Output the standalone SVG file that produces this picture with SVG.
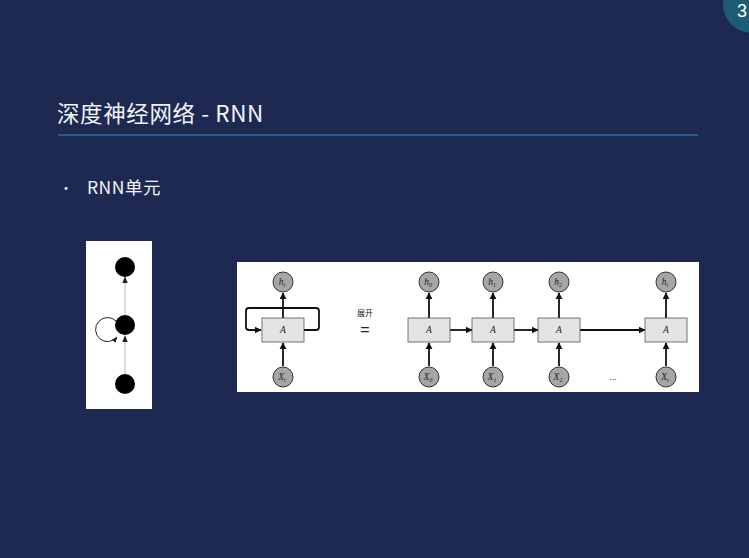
<svg xmlns="http://www.w3.org/2000/svg" width="749" height="558" viewBox="0 0 749 558">
<style>
.ttl{font-family:"Noto Sans CJK SC","Noto Sans",sans-serif;fill:#f2f4f8}
.nd{fill:#a6a6a6;stroke:#333;stroke-width:1}
.bx{fill:#e4e4e4;stroke:#555;stroke-width:0.8}
.lb{font-family:"Liberation Serif",serif;font-style:italic;font-size:9.5px;fill:#222;text-anchor:middle}
.sb{font-size:6px}
.ln{stroke:#111;stroke-width:1.8;fill:none}
.bk{fill:#000}
</style>
<defs>
<marker id="ah" viewBox="0 0 10 10" refX="9" refY="5" markerWidth="4" markerHeight="4" orient="auto" markerUnits="strokeWidth">
<path d="M0,0 L10,5 L0,10 z" fill="#111"/>
</marker>
<marker id="sa" viewBox="0 0 10 10" refX="9" refY="5" markerWidth="6" markerHeight="6" orient="auto" markerUnits="strokeWidth">
<path d="M0,1 L10,5 L0,9 z" fill="#222"/>
</marker>
</defs>
<rect width="749" height="558" fill="#1e2952"/>
<circle cx="752" cy="4" r="29" fill="#1d5d73"/>
<text x="737" y="17" font-family="Liberation Sans,sans-serif" font-size="18" fill="#ffffff">3</text>
<text class="ttl" x="57" y="122" font-size="22.5" letter-spacing="0.6">深度神经网络 - RNN</text>
<line x1="58" y1="135" x2="698" y2="135" stroke="#2c6ca2" stroke-width="1.5"/>
<text class="ttl" x="59" y="193" font-size="14">•</text>
<text class="ttl" x="87" y="194" font-size="17.5" letter-spacing="0.5">RNN单元</text>

<g id="left-panel">
<rect x="86" y="241" width="66" height="168" fill="#ffffff"/>
<line x1="125" y1="374" x2="125" y2="336" stroke="#c8c8c8" stroke-width="1.2" marker-end="url(#sa)"/>
<line x1="125" y1="315" x2="125" y2="277" stroke="#c8c8c8" stroke-width="1.2" marker-end="url(#sa)"/>
<path d="M116,321 A12,12 0 1 0 117,337" fill="none" stroke="#222" stroke-width="1" marker-end="url(#sa)"/>
<circle cx="125" cy="267" r="10" class="bk"/>
<circle cx="125" cy="325" r="10" class="bk"/>
<circle cx="125" cy="384" r="10" class="bk"/>
</g>

<g id="right-panel">
<rect x="237" y="262" width="462" height="130" fill="#ffffff"/>
</g>

<g id="connectors">
<line class="ln" x1="283" y1="318" x2="283" y2="293" marker-end="url(#ah)"/>
<line class="ln" x1="283" y1="366" x2="283" y2="343" marker-end="url(#ah)"/>
<path class="ln" d="M304,330 H316 Q319,330 319,327 V311 Q319,308 316,308 H249 Q246,308 246,311 V327 Q246,330 249,330 H261" marker-end="url(#ah)"/>
<line class="ln" x1="429" y1="318" x2="429" y2="293" marker-end="url(#ah)"/>
<line class="ln" x1="429" y1="366" x2="429" y2="343" marker-end="url(#ah)"/>
<line class="ln" x1="493" y1="318" x2="493" y2="293" marker-end="url(#ah)"/>
<line class="ln" x1="493" y1="366" x2="493" y2="343" marker-end="url(#ah)"/>
<line class="ln" x1="559" y1="318" x2="559" y2="293" marker-end="url(#ah)"/>
<line class="ln" x1="559" y1="366" x2="559" y2="343" marker-end="url(#ah)"/>
<line class="ln" x1="666" y1="318" x2="666" y2="293" marker-end="url(#ah)"/>
<line class="ln" x1="666" y1="366" x2="666" y2="343" marker-end="url(#ah)"/>
<line class="ln" x1="450" y1="330" x2="472" y2="330" marker-end="url(#ah)"/>
<line class="ln" x1="514" y1="330" x2="538" y2="330" marker-end="url(#ah)"/>
<line class="ln" x1="580" y1="330" x2="645" y2="330" marker-end="url(#ah)"/>
</g>

<g id="node-rnn">
<rect class="bx" x="262" y="318" width="42" height="24"/>
<text class="lb" x="283" y="333">A</text>
</g>
<g id="node-ht">
<circle class="nd" cx="283" cy="282" r="10"/>
<text class="lb" x="282" y="285">h<tspan class="sb" dy="2">t</tspan></text>
</g>
<g id="node-xt">
<circle class="nd" cx="283" cy="377" r="10"/>
<text class="lb" x="282" y="380">X<tspan class="sb" dy="2">t</tspan></text>
</g>
<g id="label-unroll">
<text x="365" y="316" font-family="Noto Sans CJK SC,sans-serif" font-size="8" fill="#222" text-anchor="middle">展开</text>
<text x="365" y="335" font-family="Liberation Sans,sans-serif" font-size="16" fill="#222" text-anchor="middle">=</text>
</g>

<g id="node-a0">
<rect class="bx" x="408" y="318" width="42" height="24"/>
<text class="lb" x="429" y="333">A</text>
</g>
<g id="node-h0">
<circle class="nd" cx="429" cy="282" r="10"/>
<text class="lb" x="428" y="285">h<tspan class="sb" dy="2">0</tspan></text>
</g>
<g id="node-x0">
<circle class="nd" cx="429" cy="377" r="10"/>
<text class="lb" x="428" y="380">X<tspan class="sb" dy="2">0</tspan></text>
</g>

<g id="node-a1">
<rect class="bx" x="472" y="318" width="42" height="24"/>
<text class="lb" x="493" y="333">A</text>
</g>
<g id="node-h1">
<circle class="nd" cx="493" cy="282" r="10"/>
<text class="lb" x="492" y="285">h<tspan class="sb" dy="2">1</tspan></text>
</g>
<g id="node-x1">
<circle class="nd" cx="493" cy="377" r="10"/>
<text class="lb" x="492" y="380">X<tspan class="sb" dy="2">1</tspan></text>
</g>

<g id="node-a2">
<rect class="bx" x="538" y="318" width="42" height="24"/>
<text class="lb" x="559" y="333">A</text>
</g>
<g id="node-h2">
<circle class="nd" cx="559" cy="282" r="10"/>
<text class="lb" x="558" y="285">h<tspan class="sb" dy="2">2</tspan></text>
</g>
<g id="node-x2">
<circle class="nd" cx="559" cy="377" r="10"/>
<text class="lb" x="558" y="380">X<tspan class="sb" dy="2">2</tspan></text>
</g>

<g id="ellipsis">
<text x="613" y="380" font-family="Liberation Sans,sans-serif" font-size="9" fill="#222" text-anchor="middle">...</text>
</g>

<g id="node-at">
<rect class="bx" x="645" y="318" width="42" height="24"/>
<text class="lb" x="666" y="333">A</text>
</g>
<g id="node-ht2">
<circle class="nd" cx="666" cy="282" r="10"/>
<text class="lb" x="665" y="285">h<tspan class="sb" dy="2">t</tspan></text>
</g>
<g id="node-xt2">
<circle class="nd" cx="666" cy="377" r="10"/>
<text class="lb" x="665" y="380">X<tspan class="sb" dy="2">t</tspan></text>
</g>
</svg>
